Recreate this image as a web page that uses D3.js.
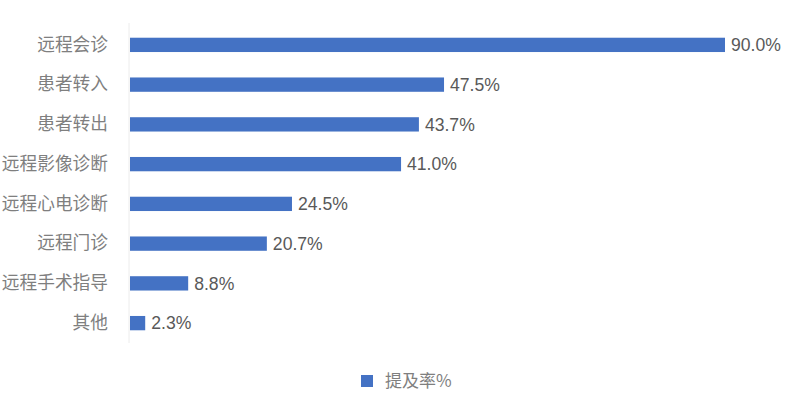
<!DOCTYPE html>
<html><head><meta charset="utf-8">
<script src="https://cdn.jsdelivr.net/npm/d3@7"></script>
<style>
html,body{margin:0;padding:0;background:#fff;}
svg{display:block;}
</style>
</head><body>
<svg id="chart" width="794" height="394"></svg>
<script>
const categories = ["远程会诊","患者转入","患者转出","远程影像诊断","远程心电诊断","远程门诊","远程手术指导","其他"];
const values = [90.0, 47.5, 43.7, 41.0, 24.5, 20.7, 8.8, 2.3];
const seriesName = "提及率%";

const svg = d3.select("#chart");
const fontCJK = "'Noto Sans CJK SC', 'Noto Sans', sans-serif";
const fontNum = "'Liberation Sans', Arial, sans-serif";

const x = d3.scaleLinear().domain([0, 90]).range([130, 725]);
const y = d3.scaleBand().domain(categories).range([25, 343]).paddingInner(0.64).paddingOuter(0.32);

// axis line
svg.append("line").attr("x1",129).attr("x2",129).attr("y1",23).attr("y2",343)
  .attr("stroke","#ececec").attr("stroke-width",1);

// category labels
const yAxis = d3.axisLeft(y).tickSize(0).tickPadding(0);
const gy = svg.append("g").attr("transform","translate(108,0)").call(yAxis);
gy.select(".domain").remove();
gy.selectAll("text").attr("font-family",fontCJK).attr("font-size",17.7).attr("fill","#7f7f7f");

// bars
svg.selectAll("rect.bar").data(values).enter().append("rect")
  .attr("class","bar")
  .attr("x", x(0))
  .attr("y", (d,i)=>y(categories[i]))
  .attr("width", d=>x(d)-x(0))
  .attr("height", y.bandwidth())
  .attr("fill","#4472C4");

// value labels
svg.selectAll("text.val").data(values).enter().append("text")
  .attr("class","val")
  .attr("x", d=>x(d)+6)
  .attr("y", (d,i)=>y(categories[i])+y.bandwidth()/2)
  .attr("dy","0.36em")
  .attr("font-family",fontNum).attr("font-size",17.6).attr("fill","#595959")
  .text(d=>d.toFixed(1)+"%");

// legend
const lg = svg.append("g");
lg.append("rect").attr("x",361).attr("y",375).attr("width",12).attr("height",12).attr("fill","#4472C4");
lg.append("text").attr("x",385).attr("y",381).attr("dy","0.36em")
  .attr("font-family",fontCJK).attr("font-size",17).attr("fill","#7f7f7f").text(seriesName);
</script>
</body></html>
